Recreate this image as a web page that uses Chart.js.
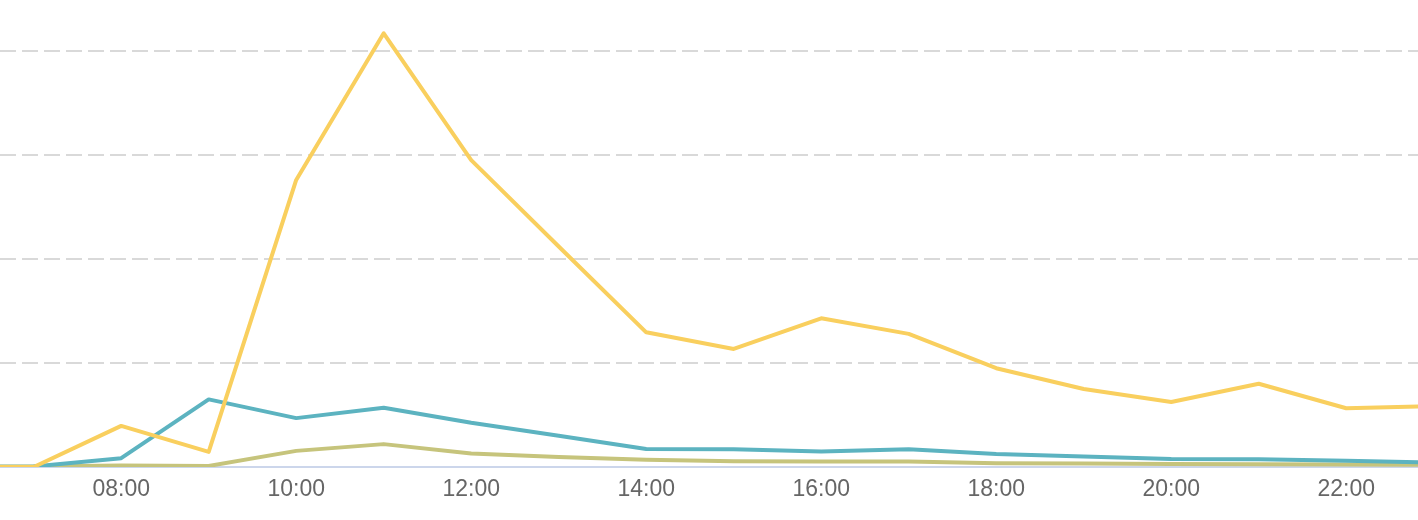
<!DOCTYPE html>
<html>
<head>
<meta charset="utf-8">
<script src="https://cdn.jsdelivr.net/npm/chart.js@4.4.1/dist/chart.umd.min.js"></script>
<style>
  html, body { margin: 0; padding: 0; background: #ffffff; }
  #wrap { width: 1418px; height: 520px; position: relative; }
</style>
</head>
<body>
<div id="wrap"><canvas id="c" width="1418" height="520"></canvas></div>
<script>
const hours = [6, 7, 8, 9, 10, 11, 12, 13, 14, 15, 16, 17, 18, 19, 20, 21, 22, 23];
const seriesYellow = [0, 0, 39.5, 14.5, 276, 417, 295, 212, 129.5, 113.5, 143, 128, 95, 75, 62.5, 80, 56.5, 58.5];
const seriesTeal   = [0, 0.5, 8.5, 65, 47, 57, 42.5, 30, 17.3, 17, 15, 17, 12.5, 10, 7.7, 7.4, 6, 4.2];
const seriesOlive  = [0.5, 0.5, 1.5, 1, 15.5, 22, 13, 9.5, 7, 5.5, 5.2, 5.2, 3.7, 3.3, 2.8, 2.6, 2.4, 2];
const tickHours = [8, 10, 12, 14, 16, 18, 20, 22];
const gridValues = [0, 100, 200, 300, 400];

const pts = arr => arr.map((v, i) => ({ x: hours[i], y: v }));
const fmt = h => String(h).padStart(2, '0') + ':00';

const common = { pointRadius: 0, pointHoverRadius: 0, tension: 0, borderWidth: 4,
  borderJoinStyle: 'round', borderCapStyle: 'round', fill: false };

new Chart(document.getElementById('c'), {
  type: 'line',
  data: {
    datasets: [
      Object.assign({ label: 'A', data: pts(seriesYellow), borderColor: '#f9cf5e' }, common),
      Object.assign({ label: 'B', data: pts(seriesTeal), borderColor: '#5cb3c0' }, common),
      Object.assign({ label: 'C', data: pts(seriesOlive), borderColor: '#c6c47c' }, common)
    ]
  },
  options: {
    responsive: false,
    animation: false,
    layout: { padding: 0 },
    plugins: { legend: { display: false }, tooltip: { enabled: false } },
    scales: {
      x: {
        type: 'linear',
        min: 6.615,
        max: 22.82,
        afterBuildTicks: s => { s.ticks = tickHours.map(v => ({ value: v })); },
        afterFit: s => { s.height = 53; s.paddingLeft = 0; s.paddingRight = 0; },
        grid: { display: false, drawTicks: false },
        border: { display: true, color: '#ccd6eb', width: 2 },
        ticks: {
          autoSkip: false, maxRotation: 0, padding: 9,
          color: '#666666',
          font: { family: 'Liberation Sans, Arial, sans-serif', size: 23 },
          callback: v => fmt(v)
        }
      },
      y: {
        type: 'linear',
        min: 0,
        max: 467 / 1.04,
        afterBuildTicks: s => { s.ticks = gridValues.map(v => ({ value: v })); },
        afterFit: s => { s.width = 0; },
        border: { display: false, dash: [16, 6] },
        grid: {
          drawTicks: false,
          lineWidth: 2,
          color: ctx => (ctx.tick && ctx.tick.value === 0) ? 'rgba(0,0,0,0)' : '#d9d9d9'
        },
        ticks: { display: false }
      }
    }
  }
});
</script>
</body>
</html>
